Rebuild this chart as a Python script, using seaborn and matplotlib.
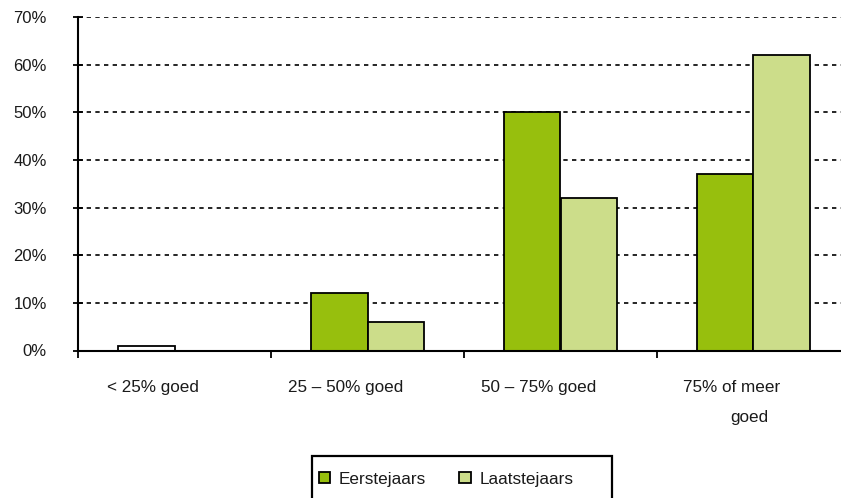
import matplotlib
matplotlib.use("Agg")
import matplotlib.pyplot as plt
import seaborn as sns
import pandas as pd
from matplotlib.patches import Patch, Rectangle

# data (percentages)
categories = ["< 25% goed", "25 – 50% goed", "50 – 75% goed", "75% of meer\ngoed"]
eerstejaars = [1, 12, 50, 37]
laatstejaars = [0, 6, 32, 62]
series = ["Eerstejaars", "Laatstejaars"]
yticks = [0, 10, 20, 30, 40, 50, 60, 70]

df = pd.DataFrame({
    "categorie": categories * 2,
    "groep": [series[0]] * 4 + [series[1]] * 4,
    "pct": eerstejaars + laatstejaars,
})

sns.set_style("white")
plt.rcParams["font.family"] = ["Liberation Sans", "DejaVu Sans"]

dark = "#97BF0D"
light = "#CCDD8A"
txt = "#1a1a1a"

fig = plt.figure(figsize=(8.41, 4.98), dpi=100)
ax = fig.add_axes([78 / 841, 1 - 350.5 / 498, 772 / 841, 333.5 / 498])

sns.barplot(data=df, x="categorie", y="pct", hue="groep", order=categories,
            hue_order=series, palette=[dark, light], saturation=1, width=0.59, gap=0,
            edgecolor="black", linewidth=1.3, legend=False, ax=ax)

# the first bar is drawn without fill in the original
ax.patches[0].set_facecolor("white")

ax.set_xlim(-0.5, len(categories) - 0.5)
ax.set_ylim(0, 70)
ax.set_yticks(yticks)
ax.set_yticklabels([f"{v}%" for v in yticks], fontsize=12, color=txt)
ax.tick_params(axis="y", left=True, direction="inout", length=7, width=1.3,
               pad=19, color="black")

ax.set_xticks([i - 0.5 for i in range(len(categories) + 1)])
ax.set_xticklabels([])
ax.tick_params(axis="x", bottom=True, direction="out", length=5, width=1.3, color="black")
ax.set_xlabel("")
ax.set_ylabel("")

for v in yticks[1:]:
    ax.axhline(v, color="black", lw=1.2, ls=(0, (2.6, 2.6)), zorder=0)

for s in ["top", "right"]:
    ax.spines[s].set_visible(False)
for s in ["left", "bottom"]:
    ax.spines[s].set_color("black")
    ax.spines[s].set_linewidth(1.5)

trans = ax.get_xaxis_transform()
for i, lab in enumerate(categories):
    lines = lab.split("\n")
    ax.text(i - 0.114, -0.124, lines[0], transform=trans, ha="center",
            va="baseline", fontsize=12.3, color=txt)
    for k, extra in enumerate(lines[1:]):
        ax.text(i - 0.02, -0.124 - 0.09 * (k + 1), extra, transform=trans,
                ha="center", va="baseline", fontsize=12.3, color=txt)

# legend box as in the original (wider than its entries)
fig.patches.append(Rectangle((312 / 841, 1 - 502 / 498), 300 / 841, 46 / 498,
                             transform=fig.transFigure, facecolor="white",
                             edgecolor="black", lw=1.6, zorder=5))
handles = [Patch(facecolor=dark, edgecolor="black", lw=1.3),
           Patch(facecolor=light, edgecolor="black", lw=1.3)]
leg = fig.legend(handles, series, loc="center left", bbox_to_anchor=(319 / 841, 1 - 479 / 498),
                 ncol=2, fontsize=12.3, frameon=False,
                 handlelength=0.66, handleheight=0.66, handletextpad=0.5,
                 columnspacing=1.95, borderpad=0, borderaxespad=0)
leg.set_zorder(6)
for t in leg.get_texts():
    t.set_color(txt)

fig.savefig("out.png", dpi=100)
